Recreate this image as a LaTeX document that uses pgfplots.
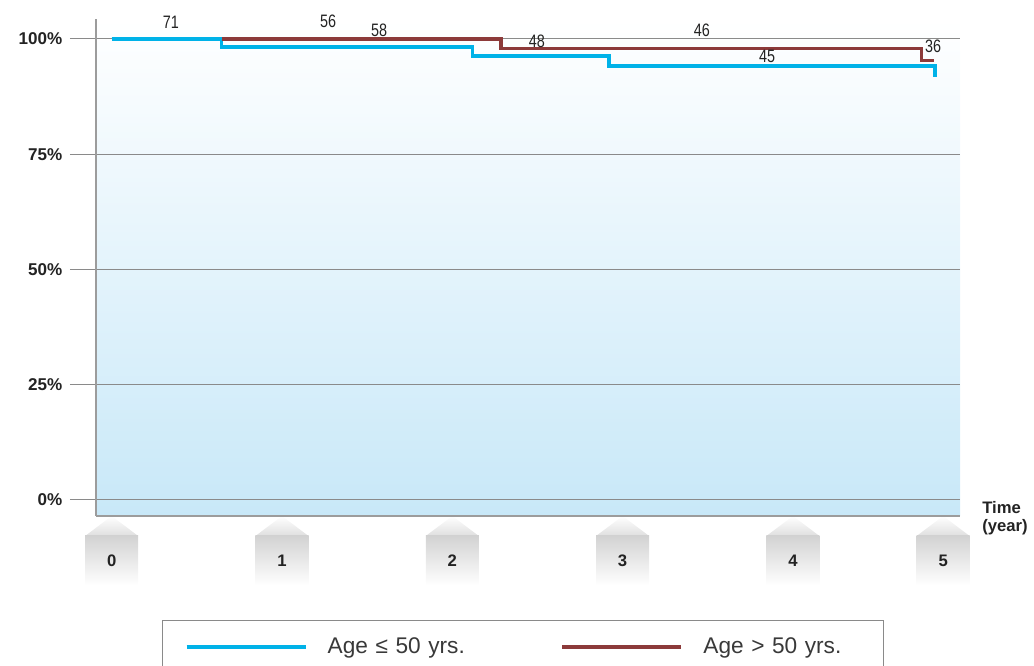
\documentclass[border=0pt]{standalone}
\usepackage{fontspec}
\setmainfont{Liberation Sans}
\newfontfamily\condfont{Liberation Sans}[FakeStretch=0.8]
\usepackage{pgfplots}
\pgfplotsset{compat=1.18}
\definecolor{ageblue}{RGB}{0,178,232}
\definecolor{agered}{RGB}{140,58,58}
\definecolor{bgblue}{RGB}{200,232,248}
\definecolor{gridgray}{RGB}{138,138,138}
\definecolor{txt}{RGB}{35,35,35}

\begin{document}
\begin{tikzpicture}
\begin{axis}[
  set layers,
  scale only axis, width=648pt, height=372.75pt,
  xmin=-0.092, xmax=4.981, ymin=-3.47, ymax=104.34,
  clip=false,
  axis x line*=bottom, axis y line*=left,
  axis line style={gridgray!85, line width=0.9pt},
  axis background/.style={top color=white, bottom color=bgblue},
  ymajorgrids, major grid style={gridgray, line width=0.75pt},
  ytick={0,25,50,75,100},
  yticklabels={0\%,25\%,50\%,75\%,100\%},
  xtick={0,1,2,3,4,4.882},
  xticklabels={0,1,2,3,4,5},
  tick align=outside, major tick length=19.5pt,
  ytick style={gridgray, line width=0.75pt},
  xtick style={draw=none},
  yticklabel style={font=\bfseries\fontsize{12.8}{14}\selectfont, text=txt, xshift=-2.25pt},
  xticklabel style={font=\bfseries\fontsize{12.5}{14}\selectfont, text=txt, anchor=center, yshift=-14.25pt},
  legend columns=2,
  legend cell align=left,
  legend image code/.code={
    \path[draw=none] (0pt,0pt) -- (123.75pt,0pt);
    \draw[#1] (18pt,0pt) -- (107.25pt,0pt);
  },
  legend style={at={(0.0764,-0.2093)}, anchor=north west,
    draw=gridgray, line width=1.1pt, fill=white,
    inner xsep=0pt, inner ysep=13pt,
    font=\fontsize{17}{20}\selectfont, text=txt!90,
    nodes={inner sep=0pt}},
]
\coordinate (O) at (rel axis cs:0,0);

\begin{pgfonlayer}{axis background}
\pgfplotsinvokeforeach{0,1,2,3,4,4.882}{
  \shade[top color=white, bottom color=gray!25]
    (axis cs:#1,-3.47) -- ++(-19.9pt,-15pt) -- ++(39.8pt,0pt) -- cycle;
  \shade[top color=gray!35, bottom color=white]
    ([xshift=-19.9pt,yshift=-15pt]axis cs:#1,-3.47) rectangle ++(39.8pt,-37pt);
}
\end{pgfonlayer}

\addplot[ageblue, line width=2.3pt, const plot] coordinates {
  (0,100) (0.646,98.26) (2.117,96.31) (2.920,94.14) (4.834,91.8)
};
\addlegendentry[text width=158pt]{Age ≤ 50 yrs.}
\addplot[agered, line width=2.3pt, const plot] coordinates {
  (0.646,100) (2.286,97.9) (4.755,95.38) (4.830,95.38)
};
\addlegendentry[text width=135pt]{Age > 50 yrs.}

% numbers at risk
\begin{scope}[every node/.style={font=\condfont\fontsize{13.5}{14}\selectfont, text=txt}]
\node at (axis cs:0.348,103.6) {71};
\node at (axis cs:1.271,103.9) {56};
\node at (axis cs:1.570,101.85) {58};
\node at (axis cs:2.497,99.57) {48};
\node at (axis cs:3.466,101.95) {46};
\node at (axis cs:3.848,96.31) {45};
\node at (axis cs:4.823,98.48) {36};
\end{scope}

\node[anchor=west, align=left, inner sep=0pt, font=\bfseries\fontsize{12.5}{13.5}\selectfont, text=txt]
  at ([yshift=-1.5pt]rel axis cs:1.0255,0) {Time\\(year)};
\end{axis}
\pgfresetboundingbox
\path[use as bounding box] ([shift={(-72pt,-112.5pt)}]O) rectangle ++(775.5pt,499.5pt);
\end{tikzpicture}
\end{document}
